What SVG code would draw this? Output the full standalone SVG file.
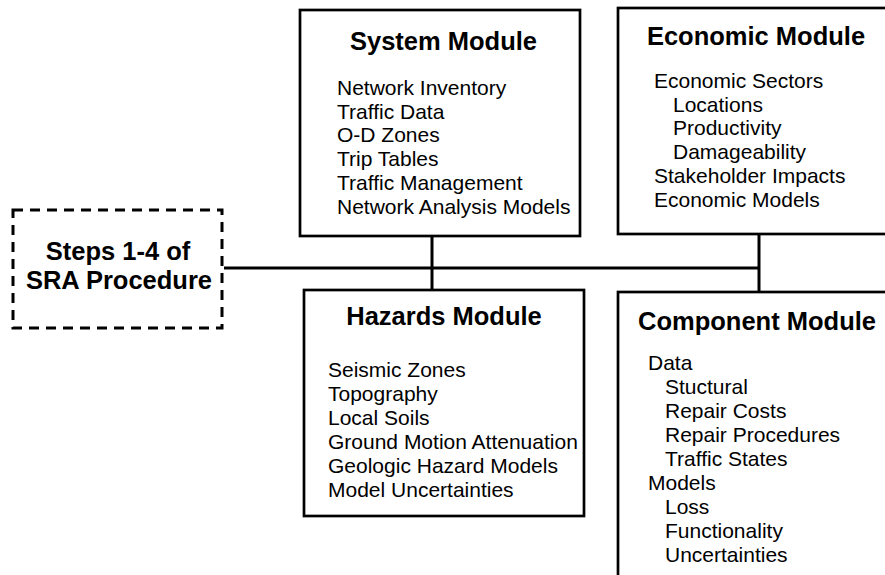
<svg xmlns="http://www.w3.org/2000/svg" width="885" height="575" viewBox="0 0 885 575">
<style>
.box{fill:#fff;stroke:#000;stroke-width:2.7}
.dash{fill:#fff;stroke:#000;stroke-width:3;stroke-dasharray:10 7}
.title{font-family:"Liberation Sans",Arial,sans-serif;font-weight:bold;font-size:25.5px;fill:#000;text-anchor:middle}
.item{font-family:"Liberation Sans",Arial,sans-serif;font-size:21px;fill:#000}
.conn{stroke:#000;stroke-width:3;fill:none}
</style>
<rect width="885" height="575" fill="#fff"/>
<g id="connectors">
<line class="conn" x1="224" y1="268" x2="759" y2="268"/>
<line class="conn" x1="432" y1="236" x2="432" y2="290"/>
<line class="conn" x1="759" y1="234" x2="759" y2="292"/>
</g>
<g id="steps">
<rect class="dash" x="13" y="210" width="209" height="118"/>
<text class="title" x="118" y="260">Steps 1-4 of</text>
<text class="title" x="119" y="289">SRA Procedure</text>
</g>
<g id="system">
<rect class="box" x="300" y="10" width="280" height="226"/>
<text class="title" x="443.5" y="50">System Module</text>
<text class="item" x="337" y="95">Network Inventory</text>
<text class="item" x="337" y="118.7">Traffic Data</text>
<text class="item" x="337" y="142.4">O-D Zones</text>
<text class="item" x="337" y="166.1">Trip Tables</text>
<text class="item" x="337" y="189.8">Traffic Management</text>
<text class="item" x="337" y="213.5">Network Analysis Models</text>
</g>
<g id="economic">
<rect class="box" x="618" y="8" width="280" height="226"/>
<text class="title" x="756" y="45">Economic Module</text>
<text class="item" x="654" y="88">Economic Sectors</text>
<text class="item" x="673" y="111.7">Locations</text>
<text class="item" x="673" y="135.4">Productivity</text>
<text class="item" x="673" y="159.1">Damageability</text>
<text class="item" x="654" y="182.8">Stakeholder Impacts</text>
<text class="item" x="654" y="206.5">Economic Models</text>
</g>
<g id="hazards">
<rect class="box" x="304" y="290" width="280" height="226"/>
<text class="title" x="444" y="325">Hazards Module</text>
<text class="item" x="328" y="377">Seismic Zones</text>
<text class="item" x="328" y="401">Topography</text>
<text class="item" x="328" y="425">Local Soils</text>
<text class="item" x="328" y="449">Ground Motion Attenuation</text>
<text class="item" x="328" y="473">Geologic Hazard Models</text>
<text class="item" x="328" y="497">Model Uncertainties</text>
</g>
<g id="component">
<rect class="box" x="618" y="292" width="280" height="300"/>
<text class="title" x="757" y="330">Component Module</text>
<text class="item" x="648" y="370">Data</text>
<text class="item" x="665" y="394">Stuctural</text>
<text class="item" x="665" y="418">Repair Costs</text>
<text class="item" x="665" y="442">Repair Procedures</text>
<text class="item" x="665" y="466">Traffic States</text>
<text class="item" x="648" y="490">Models</text>
<text class="item" x="665" y="514">Loss</text>
<text class="item" x="665" y="538">Functionality</text>
<text class="item" x="665" y="562">Uncertainties</text>
</g>
</svg>
